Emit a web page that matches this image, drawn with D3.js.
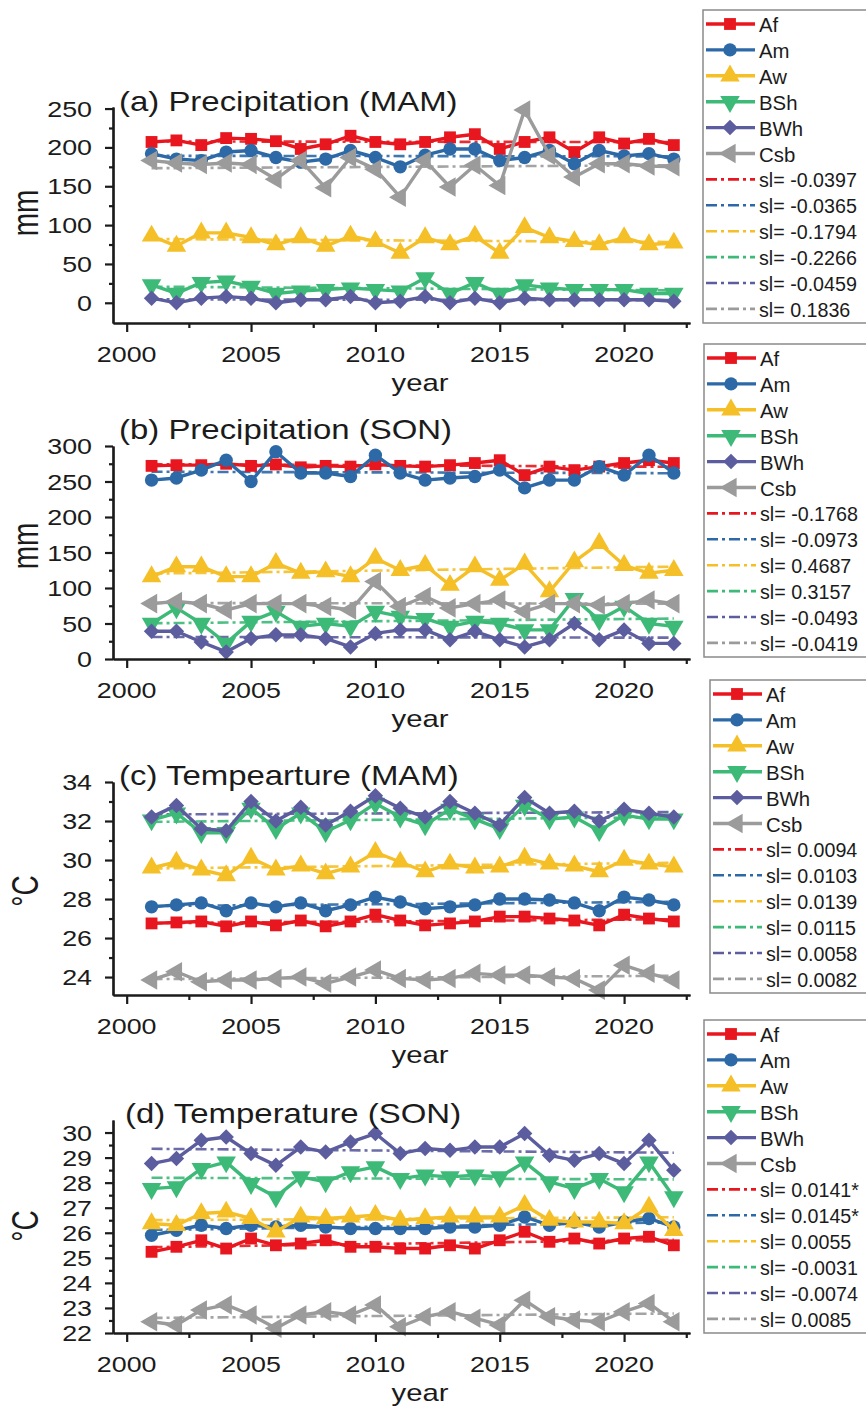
<!DOCTYPE html>
<html>
<head>
<meta charset="utf-8">
<script src="https://cdn.jsdelivr.net/npm/d3@7"></script>
<style>
  body { margin: 0; background: #fff; }
  text { font-family: "Liberation Sans", Arial, sans-serif; fill: #1b1b1b; }
</style>
</head>
<body>
<svg id="chart"></svg>
<script>
// ---- data ----
var years = [2001,2002,2003,2004,2005,2006,2007,2008,2009,2010,2011,
             2012,2013,2014,2015,2016,2017,2018,2019,2020,2021,2022];
var zones = ["Af", "Am", "Aw", "BSh", "BWh", "Csb"];
var zoneColors = ["#e8161e", "#2c69a6", "#f5bf27", "#3dba78", "#5b5d9e", "#9b9b9b"];

// (a) precipitation, MAM (mm)
var pMamAf  = [207,209,203,212,211,208,198,204,215,207,204,207,213,217,198,207,213,194,213,205,211,203];
var pMamAm  = [192,185,183,194,196,187,181,185,196,187,175,190,198,198,183,187,196,179,196,189,192,185];
var pMamAw  = [86,73,90,90,84,75,84,73,86,79,64,84,75,86,64,97,84,79,75,84,75,77];
var pMamBSh = [23,12,26,28,21,12,15,17,19,17,15,32,12,26,12,23,19,17,17,17,12,12];
var pMamBWh = [6,0,6,8,6,0,4,4,8,0,2,8,0,6,0,6,4,4,4,4,4,2];
var pMamCsb = [183,180,178,180,178,159,183,148,187,172,136,183,149,177,151,248,190,162,179,179,176,175];
var slPMam  = [-0.0397, -0.0365, -0.1794, -0.2266, -0.0459, 0.1836];

// (b) precipitation, SON (mm)
var pSonAf  = [272,273,273,275,272,274,270,272,271,274,272,271,273,276,280,259,271,266,271,276,280,276];
var pSonAm  = [252,255,266,280,250,292,262,262,257,287,262,252,255,257,266,241,252,252,271,259,287,262];
var pSonAw  = [116,130,130,116,116,135,121,123,116,142,125,132,104,130,111,134,95,137,163,132,121,125];
var pSonBSh = [50,72,50,22,53,67,46,50,46,67,60,57,46,53,50,41,41,85,55,74,50,46];
var pSonBWh = [39,39,24,10,29,34,34,29,17,36,41,41,27,39,27,17,27,50,27,41,22,22];
var pSonCsb = [78,81,78,69,78,78,78,74,69,109,74,88,72,78,83,67,78,78,76,78,83,78];
var slPSon  = [-0.1768, -0.0973, 0.4687, 0.3157, -0.0493, -0.0419];

// (c) temperature, MAM (°C)
var tMamAf  = [26.75,26.8,26.85,26.6,26.85,26.65,26.9,26.6,26.85,27.2,26.9,26.65,26.75,26.85,27.1,27.1,27.0,26.9,26.65,27.2,27.0,26.85];
var tMamAm  = [27.6,27.7,27.8,27.4,27.8,27.6,27.8,27.4,27.7,28.1,27.85,27.5,27.6,27.7,28.0,28.0,27.95,27.8,27.4,28.1,27.95,27.7];
var tMamAw  = [29.6,29.9,29.5,29.2,30.1,29.5,29.7,29.3,29.65,30.4,29.9,29.4,29.8,29.6,29.65,30.1,29.8,29.7,29.4,30.0,29.8,29.65];
var tMamBSh = [32.05,32.4,31.4,31.4,32.65,31.6,32.4,31.45,32.05,32.9,32.2,31.8,32.6,32.1,31.6,32.8,32.1,32.2,31.5,32.3,32.1,32.1];
var tMamBWh = [32.2,32.8,31.6,31.5,33.0,32.0,32.7,31.8,32.5,33.3,32.65,32.2,33.0,32.4,31.8,33.2,32.4,32.5,32.0,32.6,32.4,32.2];
var tMamCsb = [23.85,24.27,23.76,23.85,23.85,23.93,24.0,23.68,24.0,24.36,23.93,23.85,23.93,24.19,24.1,24.1,24.0,23.93,23.33,24.6,24.19,23.85];
var slTMam  = [0.0094, 0.0103, 0.0139, 0.0115, 0.0058, 0.0082];

// (d) temperature, SON (°C)
var tSonAf  = [25.24,25.44,25.7,25.37,25.77,25.5,25.57,25.7,25.44,25.44,25.37,25.37,25.5,25.37,25.7,26.04,25.64,25.77,25.57,25.77,25.84,25.5];
var tSonAm  = [25.9,26.1,26.3,26.17,26.3,26.23,26.3,26.23,26.17,26.17,26.17,26.17,26.23,26.23,26.3,26.63,26.3,26.43,26.23,26.43,26.57,26.23];
var tSonAw  = [26.37,26.3,26.77,26.83,26.57,26.04,26.63,26.57,26.63,26.7,26.5,26.57,26.63,26.63,26.63,27.1,26.5,26.43,26.43,26.37,27.03,26.1];
var tSonBSh = [27.76,27.83,28.56,28.82,27.96,27.43,28.23,28.03,28.43,28.63,28.16,28.3,28.23,28.3,28.23,28.82,28.03,27.76,28.16,27.63,28.82,27.43];
var tSonBWh = [28.76,28.96,29.69,29.82,29.16,28.69,29.42,29.22,29.62,29.96,29.16,29.36,29.29,29.42,29.42,29.96,29.09,28.89,29.16,28.76,29.69,28.49];
var tSonCsb = [22.45,22.32,22.92,23.12,22.72,22.19,22.72,22.85,22.72,23.12,22.25,22.65,22.85,22.59,22.32,23.31,22.65,22.52,22.45,22.85,23.18,22.45];
var slTSon  = [0.0141, 0.0145, 0.0055, -0.0031, -0.0074, 0.0085];
var sigTSon = ["*", "*", "", "", "", ""];

var xMajor = [2000, 2005, 2010, 2015, 2020];
var xMinor = [2002.5, 2007.5, 2012.5, 2017.5, 2022.5];

// ---- layout ----
var width = 866, height = 1414;
var svg = d3.select("#chart").attr("width", width).attr("height", height);

var panels = [
  { title: "(a) Precipitation (MAM)", unit: "mm", series: [pMamAf, pMamAm, pMamAw, pMamBSh, pMamBWh, pMamCsb],
    slopes: slPMam, stars: ["", "", "", "", "", ""],
    yDomain: [-26, 252], yRange: [323, 107], major: d3.range(0, 251, 50), minor: d3.range(25, 251, 50),
    titleX: 119, titleY: 111, unitY: 213, legendLeft: 703, legendTop: 10 },
  { title: "(b) Precipitation (SON)", unit: "mm", series: [pSonAf, pSonAm, pSonAw, pSonBSh, pSonBWh, pSonCsb],
    slopes: slPSon, stars: ["", "", "", "", "", ""],
    yDomain: [0, 300], yRange: [659, 446], major: d3.range(0, 301, 50), minor: d3.range(25, 300, 50),
    titleX: 119, titleY: 439, unitY: 546, legendLeft: 704, legendTop: 344 },
  { title: "(c) Tempearture (MAM)", unit: "°C", series: [tMamAf, tMamAm, tMamAw, tMamBSh, tMamBWh, tMamCsb],
    slopes: slTMam, stars: ["", "", "", "", "", ""],
    yDomain: [23.08, 34], yRange: [995, 782], major: d3.range(24, 35, 2), minor: d3.range(25, 34, 2),
    titleX: 119, titleY: 785, unitY: 891, legendLeft: 710, legendTop: 680 },
  { title: "(d) Temperature (SON)", unit: "°C", series: [tSonAf, tSonAm, tSonAw, tSonBSh, tSonBWh, tSonCsb],
    slopes: slTSon, stars: sigTSon,
    yDomain: [22, 30.5], yRange: [1333, 1120], major: d3.range(22, 31, 1), minor: d3.range(22.5, 30.5, 1),
    titleX: 125, titleY: 1123, unitY: 1226, legendLeft: 704, legendTop: 1020 }
];

var x = d3.scaleLinear().domain([1999.45, 2022.65]).range([113, 690]);
var fmtSlope = d3.formatLocale({ decimal: ".", thousands: ",", grouping: [3], currency: ["", ""], minus: "-" }).format(".4f");

// marker paths, one per climate zone
var markers = [
  { type: d3.symbolSquare, size: 140, rot: 0 },
  { type: d3.symbolCircle, size: 140, rot: 0 },
  { type: d3.symbolTriangle, size: 165, rot: 0 },
  { type: d3.symbolTriangle, size: 165, rot: 180 },
  { type: d3.symbolSquare, size: 120, rot: 45 },
  { type: d3.symbolTriangle, size: 165, rot: -90 }
];

// stretched text (the figure's lettering is wide)
function label(g, px, py, str, size, anchor, sx, rot) {
  return g.append("text")
      .attr("transform", "translate(" + px + "," + py + ") scale(" + sx + ",1)" + (rot ? " rotate(" + rot + ")" : ""))
      .attr("font-size", size)
      .attr("text-anchor", anchor)
      .text(str);
}

function drawPanel(p) {
  var g = svg.append("g");
  var y = d3.scaleLinear().domain(p.yDomain).range(p.yRange);
  var x0 = x.range()[0], yb = p.yRange[0];

  // trend lines (slope from the legend, through the series mean)
  var midYear = d3.mean(years);
  p.series.forEach(function(vals, i) {
    var m = d3.mean(vals);
    var ends = [years[0], years[years.length - 1]];
    g.append("line")
        .attr("x1", x(ends[0])).attr("y1", y(m + p.slopes[i] * (ends[0] - midYear)))
        .attr("x2", x(ends[1])).attr("y2", y(m + p.slopes[i] * (ends[1] - midYear)))
        .attr("stroke", zoneColors[i])
        .attr("stroke-width", 2.6)
        .attr("stroke-dasharray", "11,4,3,4")
        .attr("opacity", 0.9);
  });

  var line = d3.line().x(function(d, j) { return x(years[j]); }).y(function(d) { return y(d); });

  p.series.forEach(function(vals, i) {
    g.append("path")
        .datum(vals)
        .attr("d", line)
        .attr("fill", "none")
        .attr("stroke", zoneColors[i])
        .attr("stroke-width", 3.4)
        .attr("stroke-linejoin", "round");
    var mk = markers[i];
    g.selectAll(".mk" + i)
      .data(vals)
      .enter()
      .append("path")
        .attr("d", d3.symbol().type(mk.type).size(mk.size))
        .attr("transform", function(d, j) { return "translate(" + x(years[j]) + "," + y(d) + ") rotate(" + mk.rot + ")"; })
        .attr("fill", zoneColors[i]);
  });

  // axes
  var axStyle = function(sel) {
    sel.selectAll("path,line").attr("stroke", "#1b1b1b").attr("stroke-width", 2.2);
    sel.selectAll("text").remove();
  };
  g.append("g").attr("transform", "translate(0," + yb + ")")
      .call(d3.axisBottom(x).tickValues(xMajor).tickSize(9).tickSizeOuter(0).tickFormat(""))
      .call(axStyle);
  g.append("g").attr("transform", "translate(0," + yb + ")")
      .call(d3.axisBottom(x).tickValues(xMinor).tickSize(5).tickSizeOuter(0).tickFormat(""))
      .call(axStyle);
  g.append("g").attr("transform", "translate(" + x0 + ",0)")
      .call(d3.axisLeft(y).tickValues(p.major).tickSize(8).tickSizeOuter(0).tickFormat(""))
      .call(axStyle);
  g.append("g").attr("transform", "translate(" + x0 + ",0)")
      .call(d3.axisLeft(y).tickValues(p.minor).tickSize(4).tickSizeOuter(0).tickFormat(""))
      .call(axStyle);

  xMajor.forEach(function(v) { label(g, x(v), yb + 39, v, 22, "middle", 1.22); });
  p.major.forEach(function(v) { label(g, 92, y(v) + 8, v, 22, "end", 1.22); });
  label(g, 420, yb + 68, "year", 24, "middle", 1.22);
  label(g, 38, p.unitY, p.unit, 28, "middle", 1.35, -90);
  label(g, p.titleX, p.titleY, p.title, 27, "start", 1.22);

  // legend
  var lg = g.append("g").attr("transform", "translate(" + p.legendLeft + "," + p.legendTop + ")");
  lg.append("rect")
      .attr("x", 0).attr("y", 0).attr("width", 200).attr("height", 313)
      .attr("fill", "#fff").attr("stroke", "#8a8a8a").attr("stroke-width", 1.5);
  var step = 25.9;
  zones.forEach(function(z, i) {
    var ly = 14 + i * step;
    lg.append("line").attr("x1", 3).attr("x2", 52).attr("y1", ly).attr("y2", ly)
        .attr("stroke", zoneColors[i]).attr("stroke-width", 3.4);
    lg.append("path")
        .attr("d", d3.symbol().type(markers[i].type).size(markers[i].size))
        .attr("transform", "translate(27," + ly + ") rotate(" + markers[i].rot + ")")
        .attr("fill", zoneColors[i]);
    label(lg, 56, ly + 8, z, 21, "start", 0.97);
  });
  p.slopes.forEach(function(s, i) {
    var ly = 14 + (i + 6) * step;
    lg.append("line").attr("x1", 3).attr("x2", 52).attr("y1", ly).attr("y2", ly)
        .attr("stroke", zoneColors[i]).attr("stroke-width", 2.6)
        .attr("stroke-dasharray", "11,4,3,4");
    label(lg, 56, ly + 8, "sl= " + fmtSlope(s) + p.stars[i], 20.5, "start", 0.96);
  });
}

panels.forEach(drawPanel);
</script>
</body>
</html>
